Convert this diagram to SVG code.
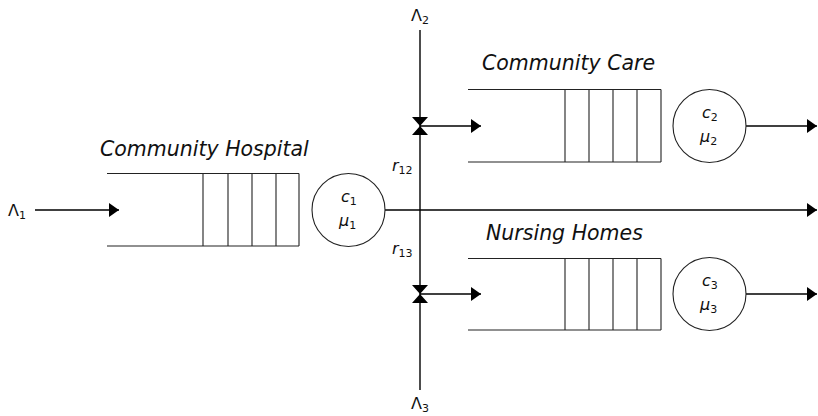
<svg xmlns="http://www.w3.org/2000/svg" width="818" height="416" viewBox="0 0 818 416">
  <style>
    .q { fill: none; stroke: #222; stroke-width: 1.1; }
    .srv { fill: #fff; stroke: #222; stroke-width: 1.1; }
    .ln { fill: none; stroke: #000; stroke-width: 1.4; }
    .title { font-family: "DejaVu Sans", sans-serif; font-style: italic; font-size: 20.5px; fill: #111; }
    .lab { font-family: "DejaVu Sans", sans-serif; font-size: 16px; fill: #111; }
    .mi { font-style: italic; }
    .sub { font-size: 11px; }
  </style>
  <defs>
    <marker id="arr" markerWidth="10" markerHeight="14" refX="10" refY="7" orient="auto" markerUnits="userSpaceOnUse">
      <path d="M0,0 L10,7 L0,14 Z" fill="#000"/>
    </marker>
    <g id="bowtie">
      <path d="M-8,-9 L8,-9 L0,0 Z M-8,9 L8,9 L0,0 Z" fill="#000"/>
    </g>
  </defs>

  <!-- connectors -->
  <g id="connectors">
    <line class="ln" x1="35" y1="210" x2="119" y2="210" marker-end="url(#arr)"/>
    <line class="ln" x1="385" y1="210" x2="817" y2="210" marker-end="url(#arr)"/>
    <line class="ln" x1="420" y1="30" x2="420" y2="390"/>
    <line class="ln" x1="420" y1="126" x2="481" y2="126" marker-end="url(#arr)"/>
    <line class="ln" x1="420" y1="294" x2="481" y2="294" marker-end="url(#arr)"/>
    <line class="ln" x1="746" y1="126" x2="817" y2="126" marker-end="url(#arr)"/>
    <line class="ln" x1="746" y1="294" x2="817" y2="294" marker-end="url(#arr)"/>
    <use href="#bowtie" x="420" y="126"/>
    <use href="#bowtie" x="420" y="294"/>
  </g>

  <!-- routing labels -->
  <g id="labels">
    <text class="lab" x="8" y="216">Λ<tspan class="sub" dy="3">1</tspan></text>
    <text class="lab" x="411" y="21">Λ<tspan class="sub" dy="3">2</tspan></text>
    <text class="lab" x="411" y="409">Λ<tspan class="sub" dy="3">3</tspan></text>
    <text class="lab" x="392" y="171"><tspan class="mi">r</tspan><tspan class="sub" dy="3">12</tspan></text>
    <text class="lab" x="392" y="254"><tspan class="mi">r</tspan><tspan class="sub" dy="3">13</tspan></text>
  </g>

  <!-- Community Hospital queue -->
  <g id="hospital">
    <text class="title" x="100" y="156">Community Hospital</text>
    <path class="q" d="M107,173.5 H299 M107,246 H299 M203,173.5 V246 M228,173.5 V246 M252,173.5 V246 M276,173.5 V246 M299,173.5 V246"/>
    <circle class="srv" cx="348.5" cy="210" r="36.5"/>
    <text class="lab mi" x="341" y="202">c<tspan class="sub" dy="3" font-style="normal">1</tspan></text>
    <text class="lab mi" x="339" y="226">μ<tspan class="sub" dy="3" font-style="normal">1</tspan></text>
  </g>

  <!-- Community Care queue -->
  <g id="care">
    <text class="title" x="482" y="70">Community Care</text>
    <path class="q" d="M468,89.5 H661 M468,162 H661 M565,89.5 V162 M589,89.5 V162 M613,89.5 V162 M637,89.5 V162 M661,89.5 V162"/>
    <circle class="srv" cx="709.5" cy="126" r="36.5"/>
    <text class="lab mi" x="702" y="118">c<tspan class="sub" dy="3" font-style="normal">2</tspan></text>
    <text class="lab mi" x="700" y="142">μ<tspan class="sub" dy="3" font-style="normal">2</tspan></text>
  </g>

  <!-- Nursing Homes queue -->
  <g id="nursing">
    <text class="title" x="486" y="240">Nursing Homes</text>
    <path class="q" d="M468,258.5 H661 M468,330 H661 M565,258.5 V330 M589,258.5 V330 M613,258.5 V330 M637,258.5 V330 M661,258.5 V330"/>
    <circle class="srv" cx="709.5" cy="294" r="36.5"/>
    <text class="lab mi" x="702" y="286">c<tspan class="sub" dy="3" font-style="normal">3</tspan></text>
    <text class="lab mi" x="700" y="310">μ<tspan class="sub" dy="3" font-style="normal">3</tspan></text>
  </g>
</svg>
